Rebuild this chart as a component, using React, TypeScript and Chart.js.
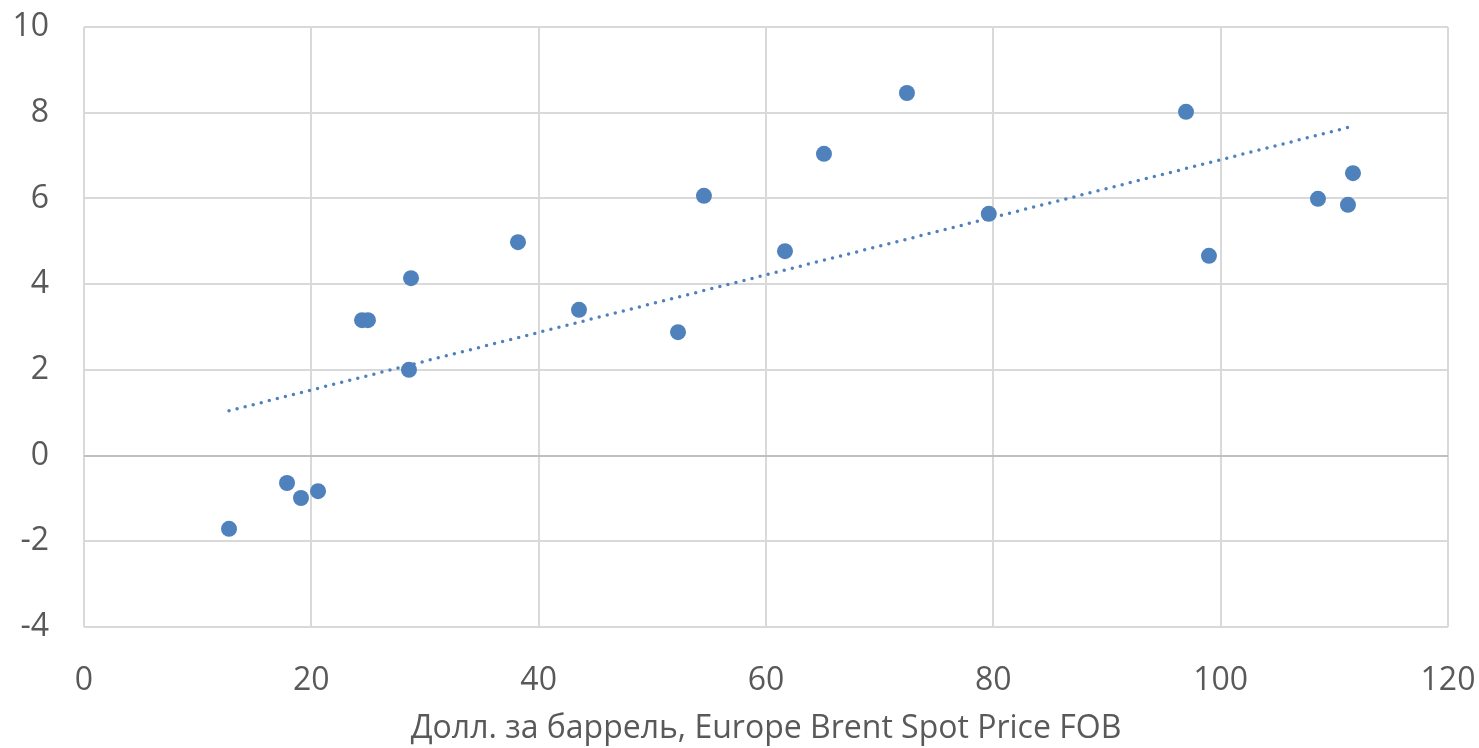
import React, { useEffect, useRef } from "react";
import { Chart, registerables } from "chart.js";

Chart.register(...registerables);

const priceX = [12.76, 17.86, 19.09, 20.59, 24.46, 24.98, 28.59, 28.77, 38.18, 43.55, 52.26, 54.54, 61.67, 65.1, 72.4, 79.6, 96.95, 98.97, 108.56, 111.2, 111.64];
const growthY = [-1.71, -0.64, -0.99, -0.83, 3.16, 3.16, 2.0, 4.14, 4.98, 3.4, 2.88, 6.06, 4.77, 7.04, 8.46, 5.64, 8.02, 4.66, 5.99, 5.85, 6.59];
const xTitle = "Долл. за баррель, Europe Brent Spot Price FOB";
const xMin = 0, xMax = 120, xStep = 20;
const yMin = -4, yMax = 10, yStep = 2;

function linearTrend(xs: number[], ys: number[]) {
  const n = xs.length;
  const mx = xs.reduce((a, b) => a + b, 0) / n;
  const my = ys.reduce((a, b) => a + b, 0) / n;
  let sxy = 0, sxx = 0;
  for (let i = 0; i < n; i++) {
    sxy += (xs[i] - mx) * (ys[i] - my);
    sxx += (xs[i] - mx) * (xs[i] - mx);
  }
  const slope = sxy / sxx;
  const icpt = my - slope * mx;
  const x0 = Math.min(...xs), x1 = Math.max(...xs);
  return [
    { x: x0, y: icpt + slope * x0 },
    { x: x1, y: icpt + slope * x1 },
  ];
}

export default function App() {
  const ref = useRef<HTMLCanvasElement | null>(null);
  useEffect(() => {
    if (!ref.current) return;
    const FONT = "'Open Sans', sans-serif";
    const TXT = "#595959";
    const chart = new Chart(ref.current, {
      type: "scatter",
      data: {
        datasets: [
          {
            label: "data",
            data: priceX.map((x, i) => ({ x, y: growthY[i] })),
            backgroundColor: "#4F81BD",
            borderColor: "#4F81BD",
            pointRadius: 8,
            borderWidth: 0,
            order: 1,
          },
          {
            label: "trend",
            type: "line",
            data: linearTrend(priceX, growthY),
            borderColor: "#4F81BD",
            borderWidth: 3.5,
            borderDash: [0, 8.3],
            borderCapStyle: "round",
            pointRadius: 0,
            fill: false,
            order: 0,
          } as any,
        ],
      },
      options: {
        animation: false,
        responsive: false,
        maintainAspectRatio: false,
        layout: { padding: { left: 0, right: 31, top: 27, bottom: 0 } },
        plugins: { legend: { display: false }, tooltip: { enabled: false } },
        scales: {
          x: {
            type: "linear",
            min: xMin,
            max: xMax,
            border: { display: false },
            grid: { color: "#D9D9D9", lineWidth: 2, drawTicks: false },
            ticks: {
              stepSize: xStep,
              padding: 35,
              color: TXT,
              font: { family: FONT, size: 32 },
            },
            title: {
              display: true,
              text: xTitle,
              color: TXT,
              font: { family: FONT, size: 32 },
              padding: { top: 0, bottom: 0 },
            },
            afterFit: (s: any) => {
              s.height = 121;
              s.paddingLeft = 0;
              s.paddingRight = 0;
              s.paddingTop = 0;
              s.paddingBottom = 0;
            },
          },
          y: {
            type: "linear",
            min: yMin,
            max: yMax,
            border: { display: false },
            grid: {
              color: (c: any) => (c.tick && c.tick.value === 0 ? "#BFBFBF" : "#D9D9D9"),
              lineWidth: 2,
              drawTicks: false,
            },
            ticks: {
              stepSize: yStep,
              padding: 35,
              color: TXT,
              font: { family: FONT, size: 32 },
            },
            afterFit: (s: any) => {
              s.width = 84;
              s.paddingLeft = 0;
              s.paddingRight = 0;
              s.paddingTop = 0;
              s.paddingBottom = 0;
            },
          },
        },
      },
    });
    return () => chart.destroy();
  }, []);
  return (
    <div style={{ position: "absolute", left: 0, top: 0, width: 1479, height: 748, background: "#fff" }}>
      <canvas ref={ref} width={1479} height={748} style={{ display: "block" }} />
    </div>
  );
}
